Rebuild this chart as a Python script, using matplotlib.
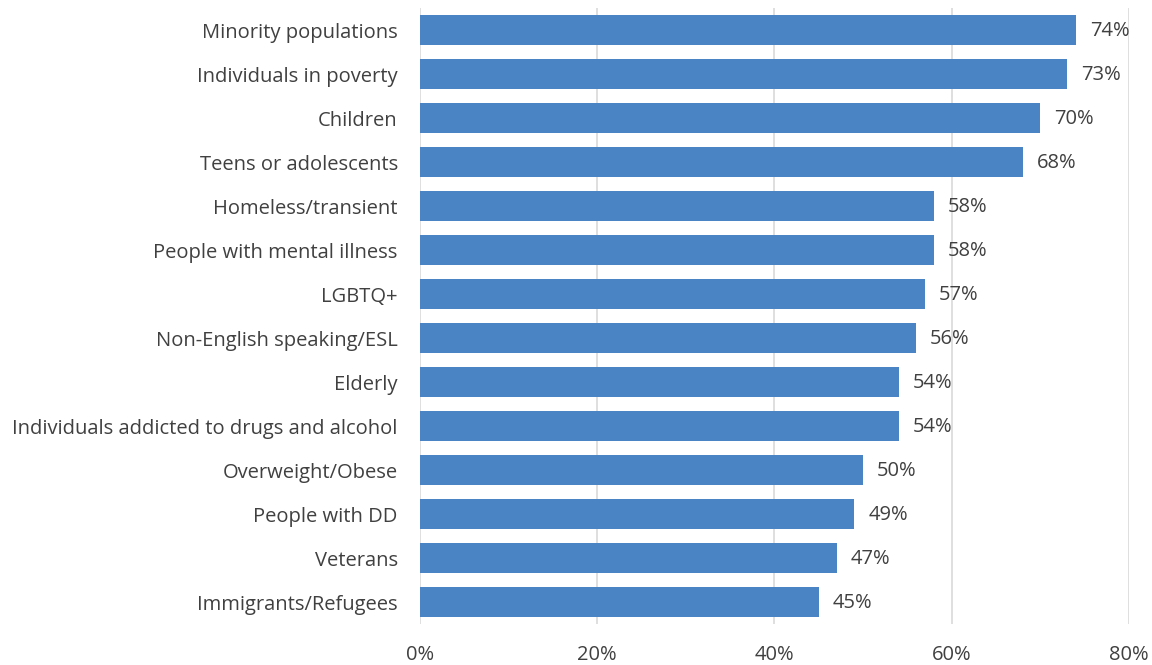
import matplotlib.pyplot as plt
import numpy as np

groups = [
    "Minority populations", "Individuals in poverty", "Children",
    "Teens or adolescents", "Homeless/transient", "People with mental illness",
    "LGBTQ+", "Non-English speaking/ESL", "Elderly",
    "Individuals addicted to drugs and alcohol", "Overweight/Obese",
    "People with DD", "Veterans", "Immigrants/Refugees"
]
pct = [74, 73, 70, 68, 58, 58, 57, 56, 54, 54, 50, 49, 47, 45]
xticks = [0, 20, 40, 60, 80]

plt.rcParams['font.family'] = ['Open Sans', 'DejaVu Sans']
txt = "#404040"
fs = 14.5

fig = plt.figure(figsize=(11.52, 6.65), dpi=100)
ax = fig.add_axes([420 / 1152, 1 - 624 / 665, 709 / 1152, 616 / 665])

y = np.arange(len(groups))
ax.barh(y, pct, height=0.68, color="#4A84C4", zorder=3)
for yi, v in zip(y, pct):
    ax.annotate(f"{v}%", (v, yi), xytext=(10, -1), textcoords="offset points",
                va="center", ha="left", fontsize=fs, color=txt)

ax.set_xlim(0, 80)
ax.set_ylim(len(groups) - 0.5, -0.5)
ax.set_yticks(y)
ax.set_yticklabels(groups, fontsize=fs, color=txt)
ax.set_xticks(xticks)
ax.set_xticklabels([f"{t}%" for t in xticks], fontsize=fs, color=txt)
ax.tick_params(axis="both", length=0)
ax.tick_params(axis="y", pad=16)
ax.tick_params(axis="x", pad=15)
ax.grid(axis="x", color="#d9d9d9", linewidth=1.2, zorder=0)
for s in ax.spines.values():
    s.set_visible(False)

fig.savefig("out.png", dpi=100)
